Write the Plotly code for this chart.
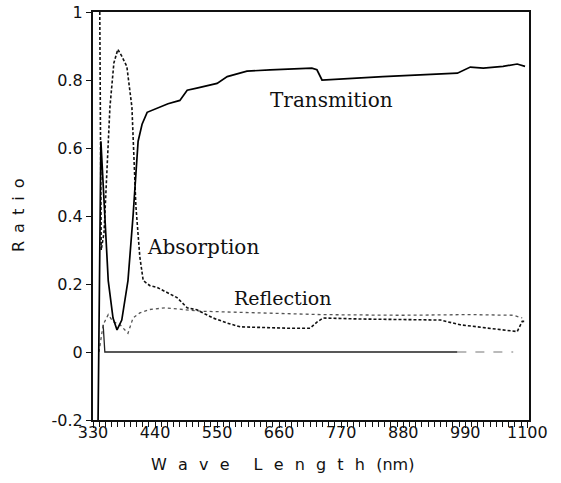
import plotly.graph_objects as go

# Wavelength (nm) and ratio values
trans_nm = [339, 344, 357, 365.5, 372.6, 381, 392, 401, 410, 417, 426, 449, 463, 484, 497, 514,
            550, 568, 603, 644, 718, 727, 736, 844, 976, 999, 1022, 1057, 1082, 1096]
trans_val = [-0.2, 0.62, 0.21, 0.10, 0.065, 0.094, 0.21, 0.40, 0.62, 0.67, 0.705, 0.72, 0.73, 0.74,
             0.77, 0.776, 0.79, 0.81, 0.826, 0.83, 0.835, 0.83, 0.80, 0.81, 0.82, 0.838, 0.835,
             0.84, 0.847, 0.84]

abs_nm = [342, 343, 344.5, 349.5, 355, 360, 367, 374, 381, 390, 399, 403, 406, 413, 419, 431,
          443.5, 479, 497, 514, 543, 568, 591, 674, 715, 727, 738, 804, 946, 981, 1057, 1082,
          1091, 1096]
abs_val = [1.0, 0.6, 0.30, 0.35, 0.55, 0.72, 0.85, 0.89, 0.87, 0.84, 0.72, 0.58, 0.43, 0.28, 0.21,
           0.195, 0.19, 0.16, 0.13, 0.124, 0.10, 0.085, 0.074, 0.07, 0.07, 0.088, 0.10, 0.097,
           0.094, 0.08, 0.065, 0.06, 0.09, 0.09]

refl_nm = [340.6, 348, 357, 365, 378, 392, 401, 413, 431, 458, 520, 608, 733, 875, 999, 1075, 1091]
refl_val = [0.0, 0.08, 0.11, 0.09, 0.08, 0.055, 0.10, 0.115, 0.125, 0.13, 0.12, 0.115, 0.11,
            0.108, 0.11, 0.108, 0.10]

base_nm = [348, 351, 976]
base_val = [0.08, 0.0, 0.0]
base2_nm = [976, 1075]
base2_val = [0.0, 0.0]

x_ticks = [330, 440, 550, 660, 770, 880, 990, 1100]
y_ticks = [-0.2, 0, 0.2, 0.4, 0.6, 0.8, 1]
y_tick_text = ["-0.2", "0", "0.2", "0.4", "0.6", "0.8", "1"]

fig = go.Figure()
fig.add_trace(go.Scatter(x=base_nm, y=base_val, mode="lines",
                         line=dict(color="#222", width=1.3), showlegend=False))
fig.add_trace(go.Scatter(x=base2_nm, y=base2_val, mode="lines",
                         line=dict(color="#777", width=1.2, dash="dash"), showlegend=False))
fig.add_trace(go.Scatter(x=refl_nm, y=refl_val, mode="lines", name="Reflection",
                         line=dict(color="#555", width=1.3, dash="dot"), showlegend=False))
fig.add_trace(go.Scatter(x=abs_nm, y=abs_val, mode="lines", name="Absorption",
                         line=dict(color="#111", width=1.6, dash="3px,2px"), showlegend=False))
fig.add_trace(go.Scatter(x=trans_nm, y=trans_val, mode="lines", name="Transmition",
                         line=dict(color="#000", width=1.7), showlegend=False))

serif = "DejaVu Serif"
fig.add_annotation(x=752, y=0.74, text="Transmition", showarrow=False,
                   font=dict(family=serif, size=20, color="#111"))
fig.add_annotation(x=525, y=0.31, text="Absorption", showarrow=False,
                   font=dict(family=serif, size=20, color="#111"))
fig.add_annotation(x=667, y=0.16, text="Reflection", showarrow=False,
                   font=dict(family=serif, size=19, color="#111"))

g = "\u2002\u2009"
x_title = g.join("Wave") + "\u2002\u2002\u2002" + g.join("Length") + "\u2002\u2009(nm)"
y_title = "\u2002".join("Ratio")

fig.add_annotation(xref="paper", yref="paper", x=0.435, y=-0.11, xanchor="center",
                   yanchor="middle", text=x_title, showarrow=False,
                   font=dict(family="DejaVu Sans", size=16, color="#111"))
fig.add_annotation(xref="paper", yref="paper", x=-0.172, y=0.5, xanchor="center",
                   yanchor="middle", textangle=-90, text=y_title, showarrow=False,
                   font=dict(family="DejaVu Sans", size=16, color="#111"))

fig.update_xaxes(range=[330, 1103], tickvals=x_ticks, ticks="outside", ticklen=6, tickwidth=1.3,
                 tickcolor="#111", showline=True, linecolor="#111", linewidth=1.6, mirror=True,
                 showgrid=False, zeroline=False, automargin=False, ticklabelstandoff=-9,
                 ticklabeloverflow="allow",
                 minor=dict(dtick=11, tick0=330, ticks="outside", ticklen=5, tickcolor="#111",
                            tickwidth=1.2),
                 tickfont=dict(family="DejaVu Sans", size=16, color="#111"))
fig.update_yaxes(range=[-0.2, 1.0], tickvals=y_ticks, ticktext=y_tick_text, ticks="outside",
                 ticklen=5, tickwidth=1.3, tickcolor="#111", showline=True, linecolor="#111",
                 linewidth=2.2, mirror=True, showgrid=False, zeroline=False, automargin=False,
                 ticklabeloverflow="allow",
                 tickfont=dict(family="DejaVu Sans", size=16, color="#111"))

fig.update_layout(width=561, height=483, margin=dict(l=93, r=32, t=12, b=63),
                  plot_bgcolor="white", paper_bgcolor="white", showlegend=False)

fig.write_html("out.html", config={"displayModeBar": False},
               post_script="document.body.style.margin='0';document.body.style.overflow='hidden';")
